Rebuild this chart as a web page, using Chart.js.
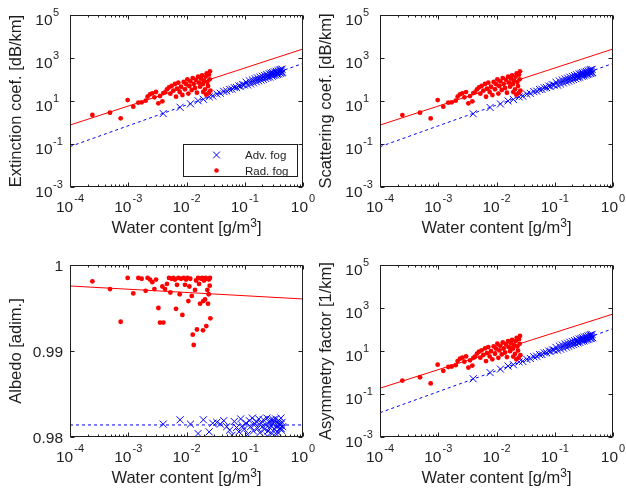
<!DOCTYPE html>
<html>
<head>
<meta charset="utf-8">
<script src="https://cdn.jsdelivr.net/npm/chart.js@4.4.1/dist/chart.umd.min.js"></script>
<style>
    body { margin: 0; background: #fff; width: 626px; height: 498px; position: relative; overflow: hidden; }
    canvas { position: absolute; }
</style>
</head>
<body>
<canvas id="grafico_extincao" width="320" height="249" style="left:0px;top:0px"></canvas>
<canvas id="grafico_espalhamento" width="316" height="249" style="left:310px;top:0px"></canvas>
<canvas id="grafico_albedo" width="320" height="249" style="left:0px;top:249px"></canvas>
<canvas id="grafico_assimetria" width="316" height="249" style="left:310px;top:249px"></canvas>
<script>
// nevoeiro de radiacao (Rad. fog)
var lwcRad = [2.42e-4, 4.86e-4, 7.41e-4, 9.77e-4, 1.22e-3, 1.49e-3, 1.70e-3, 1.99e-3, 2.15e-3, 2.36e-3,
    2.59e-3, 2.81e-3, 3.00e-3, 3.29e-3, 3.51e-3, 3.85e-3, 4.00e-3, 4.28e-3, 4.62e-3, 5.01e-3,
    5.28e-3, 5.56e-3, 5.94e-3, 6.35e-3, 6.61e-3, 6.87e-3, 7.24e-3, 7.64e-3, 8.05e-3, 8.49e-3,
    8.94e-3, 9.42e-3, 9.81e-3, 1.035e-2, 1.076e-2, 1.12e-2, 1.16e-2, 1.23e-2, 1.28e-2, 1.33e-2,
    1.40e-2, 1.46e-2, 1.51e-2, 1.58e-2, 1.64e-2, 1.71e-2, 1.78e-2, 1.85e-2, 1.92e-2, 2.00e-2,
    2.08e-2, 2.13e-2, 2.22e-2, 2.28e-2, 2.34e-2, 2.43e-2, 2.50e-2, 2.53e-2, 2.57e-2, 2.40e-2,
    2.19e-2, 1.94e-2];
var extRad = [2.23, 2.86, 1.56, 11.1, 5.45, 8.4, 8.7, 10.4, 15.9, 20.4,
    22.7, 14.8, 26.2, 7.8, 17.1, 9.7, 23.4, 25.3, 34.9, 43.2,
    21.9, 49.9, 30.3, 61.8, 15.9, 37.5, 71.3, 26.2, 46.5, 19.0,
    76.6, 34.9, 61.8, 102, 22.2, 49.9, 82, 32.5, 117, 61.8,
    40.3, 94.8, 24.4, 135, 71.3, 46.5, 109, 156, 61.8, 88.3,
    34.9, 135, 194, 76.6, 49.9, 168, 102, 240, 30.3, 23.1,
    19.7, 26.2];
var scaRad = [2.22, 2.85, 1.55, 11.1, 5.43, 8.4, 8.7, 10.4, 15.9, 20.4,
    22.7, 14.8, 26.1, 7.8, 17.0, 9.7, 23.3, 25.2, 34.8, 43.1,
    21.8, 49.8, 30.2, 61.7, 15.8, 37.4, 71.2, 26.1, 46.4, 18.9,
    76.5, 34.8, 61.7, 102, 22.1, 49.8, 82, 32.4, 117, 61.2,
    40.2, 94.6, 24.2, 135, 71.1, 46.3, 109, 156, 61.3, 88.1,
    34.8, 135, 194, 76.4, 49.7, 168, 102, 240, 30.1, 23.0,
    19.6, 26.1];
var albRad = [0.9981, 0.9972, 0.9934, 0.9985, 0.9967, 0.9985, 0.9984, 0.9970, 0.9985, 0.9983,
    0.9980, 0.9972, 0.9983, 0.9950, 0.9933, 0.9975, 0.9933, 0.9972, 0.9978, 0.9985,
    0.9968, 0.9984, 0.9985, 0.9983, 0.9949, 0.9977, 0.9985, 0.9966, 0.9984, 0.9942,
    0.9985, 0.9977, 0.9983, 0.9985, 0.9958, 0.9975, 0.9984, 0.9964, 0.9919, 0.9907,
    0.9971, 0.9982, 0.9925, 0.9985, 0.9978, 0.9955, 0.9984, 0.9985, 0.9924, 0.9982,
    0.9960, 0.9985, 0.9984, 0.9971, 0.9955, 0.9983, 0.9976, 0.9985, 0.9938, 0.9966,
    0.9929, 0.9958];
var asyRad = [0.42, 0.60, 0.31, 2.3, 1.2, 1.8, 1.9, 2.2, 3.4, 4.4,
    4.9, 3.2, 5.6, 1.7, 3.7, 2.1, 4.8, 5.4, 7.5, 9.3,
    4.9, 10.7, 6.5, 13.2, 3.4, 8.0, 15.2, 5.6, 9.9, 4.1,
    16.3, 7.4, 13.1, 21.7, 4.8, 10.6, 17.4, 6.9, 24.8, 13.1,
    8.5, 20.1, 5.2, 28.6, 15.1, 9.8, 23.0, 33.0, 13.0, 18.6,
    7.4, 28.5, 40.9, 16.1, 10.5, 35.4, 21.5, 50.5, 6.4, 4.8,
    4.1, 5.5];

// nevoeiro de adveccao (Adv. fog)
var lwcAdv = [0.00398, 0.00776, 0.0117, 0.0158, 0.0195, 0.0245, 0.0282, 0.0331, 0.0380, 0.0437,
    0.0490, 0.0550, 0.0603, 0.0661, 0.0724, 0.0794, 0.0851, 0.0912, 0.0977, 0.105,
    0.112, 0.120, 0.126, 0.135, 0.141, 0.151, 0.158, 0.166, 0.174, 0.182,
    0.191, 0.200, 0.209, 0.219, 0.229, 0.240, 0.251, 0.263, 0.269, 0.282,
    0.295, 0.302, 0.316, 0.324, 0.339, 0.347, 0.363, 0.372, 0.380, 0.398,
    0.407, 0.417, 0.427, 0.437, 0.447,
    0.245, 0.285, 0.310, 0.355, 0.390, 0.420];
var extAdv = [2.6, 5.1, 7.4, 10.3, 12.0, 15.8, 17.1, 21.2, 23.0, 27.9,
    29.3, 34.8, 35.6, 41.9, 42.5, 50.1, 49.0, 57.8, 56.2, 75.6,
    55.9, 86.5, 62.5, 96.6, 70.0, 108, 78.2, 118, 85.5, 130,
    93.8, 142, 102, 155, 112, 169, 122, 185, 130, 198,
    143, 211, 153, 226, 164, 241, 174, 258, 183, 276,
    196, 289, 204, 302, 214,
    144, 166, 180, 206, 225, 242];
var scaAdv = [2.55, 5.0, 7.3, 10.1, 11.8, 15.5, 16.8, 20.8, 22.6, 27.4,
    28.8, 34.2, 34.9, 41.1, 41.7, 49.2, 48.1, 56.7, 55.1, 74.2,
    54.8, 84.9, 61.3, 94.8, 68.7, 106, 76.7, 116, 83.9, 128,
    92.0, 139, 100, 152, 110, 166, 120, 182, 128, 194,
    140, 207, 150, 222, 161, 237, 171, 253, 180, 271,
    192, 284, 200, 296, 210,
    141, 163, 177, 202, 221, 237];
var albAdv = [0.9815, 0.9820, 0.9815, 0.9804, 0.9820, 0.9806, 0.9816, 0.9817, 0.9815, 0.9819,
    0.9812, 0.9808, 0.9802, 0.9818, 0.9811, 0.9806, 0.9821, 0.9813, 0.9809, 0.9816,
    0.9803, 0.9819, 0.9812, 0.9822, 0.9807, 0.9815, 0.9818, 0.9810, 0.9821, 0.9805,
    0.9816, 0.9812, 0.9820, 0.9809, 0.9814, 0.9822, 0.9807, 0.9817, 0.9811, 0.9820,
    0.9804, 0.9815, 0.9818, 0.9809, 0.9821, 0.9812, 0.9806, 0.9816, 0.9819, 0.9810,
    0.9814, 0.9822, 0.9808, 0.9817, 0.9812,
    0.9801, 0.9813, 0.9820, 0.9803, 0.9815, 0.9810];
var asyAdv = [0.51, 0.99, 1.44, 2.0, 2.3, 3.1, 3.3, 4.1, 4.5, 5.4,
    5.7, 6.8, 6.9, 8.2, 8.3, 9.8, 9.6, 11.3, 11.0, 14.7,
    10.9, 16.9, 12.2, 18.8, 13.7, 21.1, 15.2, 23.0, 16.7, 25.4,
    18.3, 27.7, 19.9, 30.2, 21.8, 33.0, 23.8, 36.1, 25.4, 38.6,
    27.9, 41.1, 29.8, 44.1, 32.0, 47.0, 33.9, 50.3, 35.7, 53.8,
    38.2, 56.4, 39.8, 58.9, 41.7,
    28.1, 32.4, 35.1, 40.2, 43.9, 47.2];

// retas de ajuste avaliadas nas pontas do eixo x
var xAjuste = [1e-4, 1];
var ajusteExtRad = [0.76, 2630];
var ajusteExtAdv = [0.076, 562];
var ajusteScaRad = [0.76, 2630];
var ajusteScaAdv = [0.075, 560];
var ajusteAlbRad = [0.99756, 0.99605];
var ajusteAlbAdv = [0.9814, 0.9814];
var ajusteAsyRad = [0.186, 525];
var ajusteAsyAdv = [0.0135, 110];

// rotulos dos eixos
var expoentesX = [-4, -3, -2, -1, 0];
var expoentesY = [-3, -1, 1, 3, 5];
var ticksAlbedo = [0.98, 0.99, 1];
var rotulosAlbedo = ['0.98', '0.99', '1'];
var nomesSeries = ['Adv. fog', 'Rad. fog'];

var fonte = '"Liberation Sans", Arial, Helvetica, sans-serif';
var corTexto = '#1e1e1e';
var azul = '#0000ff';
var vermelho = '#ff0000';

function pontos(xs, ys) {
    return xs.map(function (x, i) { return { x: x, y: ys[i] }; });
}

function desenharMarcadorX(ctx, x, y, r) {
    ctx.beginPath();
    ctx.moveTo(x - r, y - r); ctx.lineTo(x + r, y + r);
    ctx.moveTo(x + r, y - r); ctx.lineTo(x - r, y + r);
    ctx.stroke();
}

var pluginEixos = {
    id: 'eixosMatlab',
    afterDraw: function (chart, args, opts) {
        var ctx = chart.ctx;
        var area = chart.chartArea;
        var eixoX = chart.scales.x;
        var eixoY = chart.scales.y;
        var esq = area.left + 0.5, dir = area.right - 0.5;
        var topo = area.top + 0.5, base = area.bottom - 0.5;

        ctx.save();
        ctx.strokeStyle = corTexto;
        ctx.lineWidth = 1;
        ctx.strokeRect(esq, topo, dir - esq, base - topo);

        // marcas do eixo x (decadas e subdivisoes)
        ctx.beginPath();
        for (var d = -4; d <= 0; d++) {
            for (var k = 1; k <= 9; k++) {
                var v = k * Math.pow(10, d);
                if (v > 1) break;
                var px = Math.round(eixoX.getPixelForValue(v)) + 0.5;
                var tam = (k == 1) ? 4 : 2;
                ctx.moveTo(px, base); ctx.lineTo(px, base - tam);
                ctx.moveTo(px, topo); ctx.lineTo(px, topo + tam);
            }
        }
        // marcas do eixo y
        var valoresY = opts.log ? expoentesY.map(function (e) { return Math.pow(10, e); }) : ticksAlbedo;
        valoresY.forEach(function (v) {
            var py = Math.round(eixoY.getPixelForValue(v)) + 0.5;
            ctx.moveTo(esq, py); ctx.lineTo(esq + 4, py);
            ctx.moveTo(dir, py); ctx.lineTo(dir - 4, py);
        });
        ctx.stroke();

        ctx.fillStyle = corTexto;
        ctx.textBaseline = 'alphabetic';

        // rotulos x: 10 com expoente
        expoentesX.forEach(function (e) {
            var px = eixoX.getPixelForValue(Math.pow(10, e));
            ctx.font = '15.5px ' + fonte;
            var wBase = ctx.measureText('10').width;
            ctx.font = '11px ' + fonte;
            var wExp = ctx.measureText(String(e)).width;
            var ini = px - (wBase + wExp + 1) / 2;
            ctx.textAlign = 'left';
            ctx.font = '15.5px ' + fonte;
            ctx.fillText('10', ini, area.bottom + 25);
            ctx.font = '11px ' + fonte;
            ctx.fillText(String(e), ini + wBase + 1, area.bottom + 14.5);
        });

        // rotulos y
        if (opts.log) {
            expoentesY.forEach(function (e) {
                var py = eixoY.getPixelForValue(Math.pow(10, e));
                ctx.font = '15.5px ' + fonte;
                ctx.textAlign = 'right';
                ctx.fillText('10', area.left - 17.5, py + 9.5);
                ctx.font = '11px ' + fonte;
                ctx.textAlign = 'left';
                ctx.fillText(String(e), area.left - 17, py + 1);
            });
        } else {
            ctx.font = '15.5px ' + fonte;
            ctx.textAlign = 'right';
            ticksAlbedo.forEach(function (v, i) {
                var py = eixoY.getPixelForValue(v);
                ctx.fillText(rotulosAlbedo[i], area.left - 7, py + 6);
            });
        }

        // titulo do eixo x: Water content [g/m^3]
        var cx = (area.left + area.right) / 2;
        var yTit = area.bottom + 46;
        ctx.font = '16.5px ' + fonte;
        var t1 = 'Water content [g/m', t3 = ']';
        var w1 = ctx.measureText(t1).width, w3 = ctx.measureText(t3).width;
        ctx.font = '12px ' + fonte;
        var w2 = ctx.measureText('3').width;
        var x0 = cx - (w1 + w2 + w3) / 2;
        ctx.textAlign = 'left';
        ctx.font = '16.5px ' + fonte;
        ctx.fillText(t1, x0, yTit);
        ctx.fillText(t3, x0 + w1 + w2, yTit);
        ctx.font = '12px ' + fonte;
        ctx.fillText('3', x0 + w1, yTit - 6);

        // titulo do eixo y
        ctx.save();
        ctx.translate(21, (area.top + area.bottom) / 2);
        ctx.rotate(-Math.PI / 2);
        ctx.textAlign = 'center';
        ctx.font = '16.5px ' + fonte;
        ctx.fillText(opts.titulo, 0, 0);
        ctx.restore();

        // legenda
        if (opts.legenda) {
            var lx = area.right - 120, ly = area.bottom - 43;
            ctx.fillStyle = '#ffffff';
            ctx.fillRect(lx, ly, 114, 32);
            ctx.strokeStyle = corTexto;
            ctx.strokeRect(lx + 0.5, ly + 0.5, 114, 32);
            ctx.strokeStyle = azul;
            desenharMarcadorX(ctx, lx + 33.5, ly + 11, 3.4);
            ctx.fillStyle = vermelho;
            ctx.beginPath();
            ctx.arc(lx + 33.5, ly + 26.5, 2.3, 0, Math.PI * 2);
            ctx.fill();
            ctx.fillStyle = corTexto;
            ctx.font = '11.5px ' + fonte;
            ctx.textAlign = 'left';
            ctx.fillText(nomesSeries[0], lx + 62, ly + 15);
            ctx.fillText(nomesSeries[1], lx + 62, ly + 30.5);
        }
        ctx.restore();
    }
};

function criarGrafico(idCanvas, cfg) {
    var datasets = [
        {
            data: pontos(xAjuste, cfg.ajusteRad),
            showLine: true, pointRadius: 0,
            borderColor: vermelho, borderWidth: 1
        },
        {
            data: pontos(xAjuste, cfg.ajusteAdv),
            showLine: true, pointRadius: 0,
            borderColor: azul, borderWidth: 1, borderDash: [3, 3]
        },
        {
            data: pontos(lwcRad, cfg.rad),
            pointStyle: 'circle', pointRadius: 2.4,
            backgroundColor: vermelho, borderWidth: 0
        },
        {
            data: pontos(lwcAdv, cfg.adv),
            pointStyle: 'crossRot', pointRadius: 5,
            borderColor: azul, borderWidth: 1
        }
    ];

    var eixoY = cfg.log
        ? { type: 'logarithmic', min: 1e-3, max: 1e5 }
        : { type: 'linear', min: 0.98, max: 1 };
    eixoY.ticks = { display: false };
    eixoY.grid = { display: false };
    eixoY.border = { display: false };
    eixoY.afterFit = function (s) { s.width = 70; };

    return new Chart(document.getElementById(idCanvas).getContext('2d'), {
        type: 'scatter',
        data: { datasets: datasets },
        options: {
            responsive: false,
            devicePixelRatio: 1,
            animation: false,
            events: [],
            layout: { padding: { top: cfg.topo, right: cfg.direita, left: 0, bottom: 0 } },
            scales: {
                x: {
                    type: 'logarithmic', min: 1e-4, max: 1,
                    ticks: { display: false },
                    grid: { display: false },
                    border: { display: false },
                    afterFit: function (s) { s.height = cfg.alturaX; }
                },
                y: eixoY
            },
            plugins: {
                legend: { display: false },
                tooltip: { enabled: false },
                eixosMatlab: { log: cfg.log, titulo: cfg.titulo, legenda: cfg.legenda }
            }
        },
        plugins: [pluginEixos]
    });
}

var graficoExtincao = criarGrafico('grafico_extincao', {
    titulo: 'Extinction coef. [dB/km]', log: true, legenda: true,
    rad: extRad, adv: extAdv, ajusteRad: ajusteExtRad, ajusteAdv: ajusteExtAdv,
    topo: 15, direita: 17, alturaX: 62
});
var graficoEspalhamento = criarGrafico('grafico_espalhamento', {
    titulo: 'Scattering coef. [dB/km]', log: true, legenda: false,
    rad: scaRad, adv: scaAdv, ajusteRad: ajusteScaRad, ajusteAdv: ajusteScaAdv,
    topo: 15, direita: 13, alturaX: 62
});
var graficoAlbedo = criarGrafico('grafico_albedo', {
    titulo: 'Albedo [adim.]', log: false, legenda: false,
    rad: albRad, adv: albAdv, ajusteRad: ajusteAlbRad, ajusteAdv: ajusteAlbAdv,
    topo: 16, direita: 17, alturaX: 61
});
var graficoAssimetria = criarGrafico('grafico_assimetria', {
    titulo: 'Asymmetry factor [1/km]', log: true, legenda: false,
    rad: asyRad, adv: asyAdv, ajusteRad: ajusteAsyRad, ajusteAdv: ajusteAsyAdv,
    topo: 16, direita: 13, alturaX: 61
});
</script>
</body>
</html>
